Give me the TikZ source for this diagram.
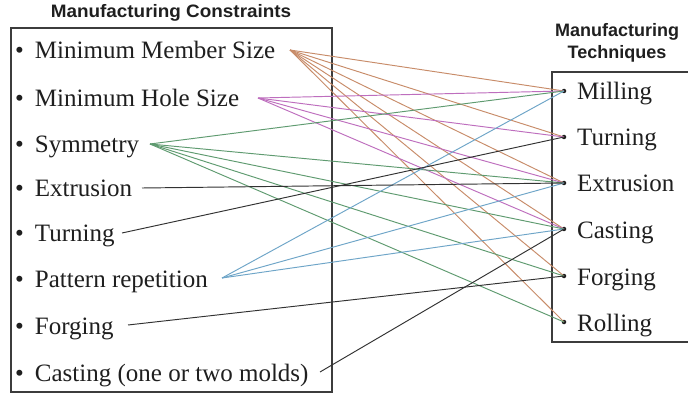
\documentclass[tikz,border=0pt]{standalone}
\usepackage{fontspec}
\setmainfont{Liberation Serif}
\newfontfamily\titlefont{Liberation Sans}
\definecolor{orangeln}{RGB}{200,140,105}
\definecolor{magentaln}{RGB}{190,110,190}
\definecolor{greenln}{RGB}{95,155,112}
\definecolor{blueln}{RGB}{110,165,200}
\definecolor{blackln}{RGB}{50,50,50}
\definecolor{boxln}{RGB}{60,60,60}
\tikzset{
  item/.style={anchor=base west, inner sep=0pt, font=\fontsize{25}{25}\selectfont, text=black!88},
  headtxt/.style={inner sep=0pt, font=\titlefont\bfseries\fontsize{18}{22}\selectfont, text=black!88, align=center},
  rdot/.style={circle, fill=black!88, inner sep=0pt, minimum size=4.5pt},
  link/.style={line width=0.95pt},
  boxframe/.style={draw=boxln, line width=1.1pt}
}
\begin{document}
\begin{tikzpicture}[x=1pt,y=-1pt]
\useasboundingbox[fill=white] (0,0) rectangle (688,398);
% boxes
\draw[boxframe] (11,28) rectangle (332,392);
\draw[boxframe] (692,72) -- (552,72) -- (552,342) -- (692,342);
% titles
\node[headtxt, anchor=base] (tl) at (171,18) {\scalebox{1.05}[1]{Manufacturing Constraints}};
\node[headtxt, anchor=base] (tr1) at (617,37) {Manufacturing};
\node[headtxt, anchor=base] (tr2) at (617,59) {Techniques};
% left items
\node[item] (m1) at (15,59) {\textbullet\hskip 11pt Minimum Member Size};
\node[item] (m2) at (15,107) {\textbullet\hskip 11pt Minimum Hole Size};
\node[item] (m3) at (15,153) {\textbullet\hskip 11pt Symmetry};
\node[item] (m4) at (15,197) {\textbullet\hskip 11pt Extrusion};
\node[item] (m5) at (15,242) {\textbullet\hskip 11pt Turning};
\node[item] (m6) at (15,287) {\textbullet\hskip 11pt Pattern repetition};
\node[item] (m7) at (15,334) {\textbullet\hskip 11pt Forging};
\node[item] (m8) at (15,381) {\textbullet\hskip 11pt Casting (one or two molds)};
% start points of connectors
\coordinate (s1) at (290,50);
\coordinate (s2) at (258,98);
\coordinate (s3) at (150,144);
\coordinate (s4) at (142,188);
\coordinate (s5) at (122,233);
\coordinate (s6) at (222,278);
\coordinate (s7) at (128,325);
\coordinate (s8) at (320,372);
% right items
\node[rdot] (r1) at (564,91) {};
\node[rdot] (r2) at (564,137) {};
\node[rdot] (r3) at (564,183) {};
\node[rdot] (r4) at (564,229) {};
\node[rdot] (r5) at (564,276) {};
\node[rdot] (r6) at (564,322) {};
\node[item] (t1) at (577,100) {Milling};
\node[item] (t2) at (577,146) {Turning};
\node[item] (t3) at (577,192) {Extrusion};
\node[item] (t4) at (577,238) {Casting};
\node[item] (t5) at (577,285) {Forging};
\node[item] (t6) at (577,331) {Rolling};
% connectors
\foreach \t in {r1,r2,r3,r4,r5,r6} \draw[link, orangeln] (s1) -- (\t.center);
\foreach \t in {r1,r2,r3,r4} \draw[link, magentaln] (s2) -- (\t.center);
\foreach \t in {r1,r3,r4,r5,r6} \draw[link, greenln] (s3) -- (\t.center);
\foreach \t in {r1,r3,r4} \draw[link, blueln] (s6) -- (\t.center);
\draw[link, blackln] (s4) -- (r3.center);
\draw[link, blackln] (s5) -- (r2.center);
\draw[link, blackln] (s7) -- (r5.center);
\draw[link, blackln] (s8) -- (r4.center);
\end{tikzpicture}
\end{document}
